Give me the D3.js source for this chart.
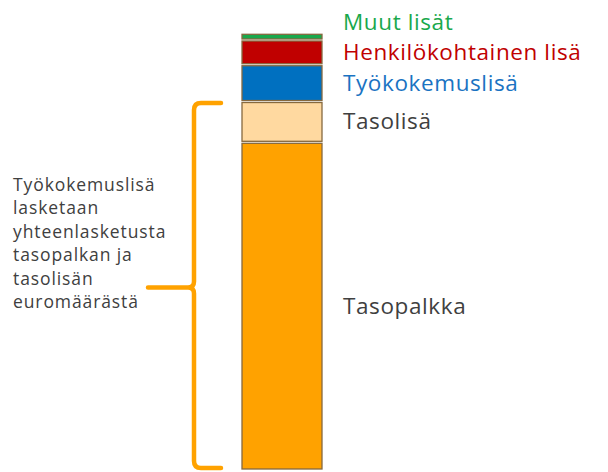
<!DOCTYPE html>
<html>
<head>
<meta charset="utf-8">
<script src="https://cdn.jsdelivr.net/npm/d3@7"></script>
<style>
  body { margin: 0; background: #fff; }
  svg { display: block; font-family: 'Open Sans', sans-serif; }
</style>
</head>
<body>
<div class="chart"></div>
<script>
// segments from bottom to top (euros, schematic)
var categories = ['Tasopalkka', 'Tasolisä', 'Työkokemuslisä', 'Henkilökohtainen lisä', 'Muut lisät']
var values = [2450, 305, 275, 185, 50]
var fills = ['#ffa200', '#ffd9a0', '#0070c0', '#c00000', '#19a84c']
var labelColors = ['#404040', '#404040', '#1a73c2', '#c00000', '#19a84c']
var note = ['Työkokemuslisä', 'lasketaan', 'yhteenlasketusta', 'tasopalkan ja', 'tasolisän', 'euromäärästä']

var width = 608
var height = 472

var svg = d3.select('.chart')
  .append('svg')
  .attr('width', width)
  .attr('height', height)

var y = d3.scaleLinear()
  .domain([0, d3.sum(values)])
  .range([470, 33.3])

var x = d3.scaleBand()
  .domain(['palkka'])
  .range([242, 322])

// stack the segments
var stacked = []
var acc = 0
values.forEach(function (v, i) {
  stacked.push({ name: categories[i], y0: acc, y1: acc + v, fill: fills[i], color: labelColors[i] })
  acc += v
})

svg.append('g')
  .selectAll('rect')
  .data(stacked)
  .enter()
  .append('rect')
  .attr('x', x('palkka'))
  .attr('width', x.bandwidth())
  .attr('y', function (d) { return y(d.y1) + 1 })
  .attr('height', function (d) { return y(d.y0) - y(d.y1) - 2 })
  .attr('fill', function (d) { return d.fill })
  .attr('stroke', '#86693f')
  .attr('stroke-width', 1.3)

// label positions: segment centre, pushed up so they do not overlap
var minGap = 30
var prev = Infinity
stacked.forEach(function (d) {
  var c = (y(d.y0) + y(d.y1)) / 2
  d.ly = Math.min(c, prev - minGap)
  prev = d.ly
})

svg.append('g')
  .selectAll('text')
  .data(stacked)
  .enter()
  .append('text')
  .attr('x', 343)
  .attr('y', function (d) { return d.ly + 7.5 })
  .attr('fill', function (d) { return d.color })
  .style('font-size', '22.5px')
  .style('letter-spacing', '0.6px')
  .text(function (d) { return d.name })

// brace over Tasopalkka + Tasolisä
var braceTop = y(stacked[1].y1) + 1.5
var braceBot = y(0) - 2
var mid = (braceTop + braceBot) / 2 + 2
var bx = 194
var r = 7
var brace = d3.path()
brace.moveTo(221, braceTop)
brace.lineTo(bx + r, braceTop)
brace.quadraticCurveTo(bx, braceTop, bx, braceTop + r)
brace.lineTo(bx, mid - 6)
brace.quadraticCurveTo(bx, mid, bx - 6, mid)
brace.lineTo(148, mid)
brace.moveTo(bx - 6, mid)
brace.quadraticCurveTo(bx, mid, bx, mid + 6)
brace.lineTo(bx, braceBot - r)
brace.quadraticCurveTo(bx, braceBot, bx + r, braceBot)
brace.lineTo(221, braceBot)

svg.append('path')
  .attr('d', brace.toString())
  .attr('fill', 'none')
  .attr('stroke', '#ffa200')
  .attr('stroke-width', 4.5)
  .attr('stroke-linecap', 'round')

svg.append('text')
  .attr('fill', '#404040')
  .style('font-size', '17.5px')
  .style('letter-spacing', '0.9px')
  .selectAll('tspan')
  .data(note)
  .enter()
  .append('tspan')
  .attr('x', 13)
  .attr('y', function (d, i) { return 190.7 + i * 23.5 })
  .text(function (d) { return d })
</script>
</body>
</html>
